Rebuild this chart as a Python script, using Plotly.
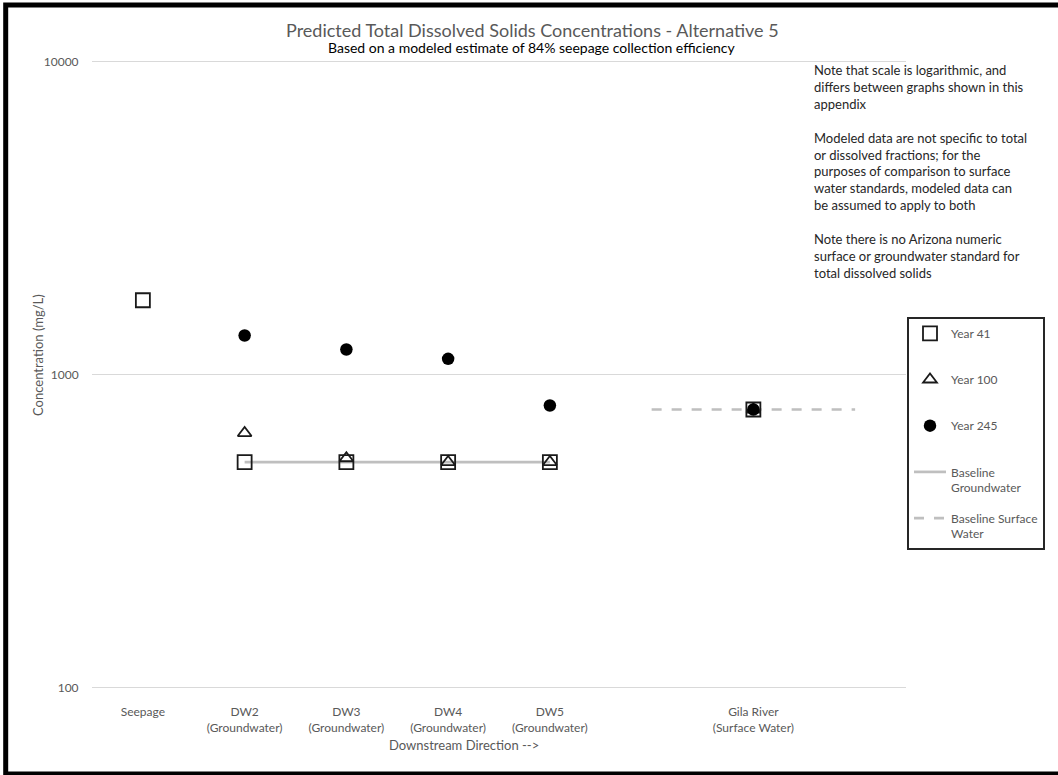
import plotly.graph_objects as go

# ---- data ----
categories = ["Seepage", "DW2<br>(Groundwater)", "DW3<br>(Groundwater)", "DW4<br>(Groundwater)",
              "DW5<br>(Groundwater)", "", "Gila River<br>(Surface Water)", ""]
year41 = [1727, 525, 525, 525, 525, None, 773, None]
year100 = [None, 650, 540, 525, 525, None, 773, None]
year245 = [None, 1332, 1202, 1122, 796, None, 773, None]
baseline_gw = [None, 525, 525, 525, 525, None, None, None]
baseline_sw = [None, None, None, None, None, 773, 773, 773]

x = list(range(len(categories)))

FONT = "Lato, 'Open Sans', sans-serif"
GRAY = "#595959"
W, H = 1058, 775
L, R, T, B = 92, 152, 60, 86
PW, PH = W - L - R, H - T - B


def px(xp):
    return (xp - L) / PW


def py(yp):
    return (H - B - yp) / PH


NB = "<br>&nbsp;"
fig = go.Figure()
fig.add_trace(go.Scatter(x=x, y=baseline_gw, mode="lines", name="Baseline<br>Groundwater",
                         line=dict(color="#bfbfbf", width=2.7), legendrank=4, legendgroup="g4"))
fig.add_trace(go.Scatter(x=x, y=baseline_sw, mode="lines", name="Baseline Surface<br>Water",
                         line=dict(color="#bfbfbf", width=2.7, dash="10px,10px"), legendrank=5,
                         legendgroup="g5"))
fig.add_trace(go.Scatter(x=x, y=year41, mode="markers", name="Year 41" + NB,
                         marker=dict(symbol="square-open", size=14, color="#1a1a1a",
                                     line=dict(width=1.8, color="#1a1a1a")),
                         legendrank=1, legendgroup="g1"))
fig.add_trace(go.Scatter(x=x, y=year100, mode="markers", name="Year 100" + NB,
                         marker=dict(symbol="triangle-up-open", size=12, color="#1a1a1a",
                                     line=dict(width=1.8, color="#1a1a1a")),
                         legendrank=2, legendgroup="g2"))
fig.add_trace(go.Scatter(x=x, y=year245, mode="markers", name="Year 245" + NB,
                         marker=dict(symbol="circle", size=12.5, color="#000000"),
                         legendrank=3, legendgroup="g3"))

fig.update_layout(
    width=W, height=H,
    margin=dict(l=L, r=R, t=T, b=B),
    paper_bgcolor="white", plot_bgcolor="white",
    font=dict(family=FONT, size=12, color=GRAY),
    showlegend=True,
    legend=dict(x=px(907), xanchor="left", y=py(317), yanchor="top",
                bordercolor="#262626", borderwidth=2, bgcolor="white",
                font=dict(family=FONT, size=12, color=GRAY),
                tracegroupgap=12, valign="top", itemwidth=32,
                traceorder="grouped"),
    xaxis=dict(range=[-0.5, len(categories) - 0.5], tickvals=x, ticktext=categories,
               showgrid=False, zeroline=False, showline=False,
               ticks="outside", ticklen=12, tickcolor="rgba(0,0,0,0)",
               tickfont=dict(family=FONT, size=12, color=GRAY)),
    yaxis=dict(type="log", range=[1.995, 4.005], tickvals=[100, 1000, 10000],
               ticktext=["100", "1000", "10000"],
               showgrid=True, gridcolor="#d9d9d9", gridwidth=1,
               zeroline=False, showline=False,
               ticks="outside", ticklen=10, tickcolor="rgba(0,0,0,0)",
               tickfont=dict(family=FONT, size=12, color=GRAY)),
)

notes = ("Note that scale is logarithmic, and<br>differs between graphs shown in this<br>appendix<br>"
         "&nbsp;<br>Modeled data are not specific to total<br>or dissolved fractions; for the<br>"
         "purposes of comparison to surface<br>water standards, modeled data can<br>"
         "be assumed to apply to both<br>&nbsp;<br>Note there is no Arizona numeric<br>"
         "surface or groundwater standard for<br>total dissolved solids")

annotations = [
    dict(text="Predicted Total Dissolved Solids Concentrations - Alternative 5",
         x=px(532), y=py(30), font=dict(family=FONT, size=18, color=GRAY)),
    dict(text="Based on a modeled estimate of 84% seepage collection efficiency",
         x=px(532), y=py(48), font=dict(family=FONT, size=14, color="#000000")),
    dict(text=notes, x=px(812), y=py(60), xanchor="left", yanchor="top", align="left",
         font=dict(family=FONT, size=13, color="#262626")),
    dict(text="Downstream Direction -->", x=px(464), y=py(745),
         font=dict(family=FONT, size=13, color=GRAY)),
    dict(text="Concentration (mg/L)", x=px(38), y=py(355), textangle=-90,
         font=dict(family=FONT, size=13, color=GRAY)),
]
for a in annotations:
    a.setdefault("xanchor", "center")
    a.setdefault("yanchor", "middle")
    fig.add_annotation(xref="paper", yref="paper", showarrow=False, **a)

fig.add_shape(type="rect", xref="paper", yref="paper",
              x0=px(5.7), x1=px(1075), y0=py(774), y1=py(5),
              line=dict(color="black", width=5), fillcolor="rgba(0,0,0,0)", layer="above")

fig.write_html("out.html", config={"displayModeBar": False},
               post_script="document.body.style.margin='0px';")
